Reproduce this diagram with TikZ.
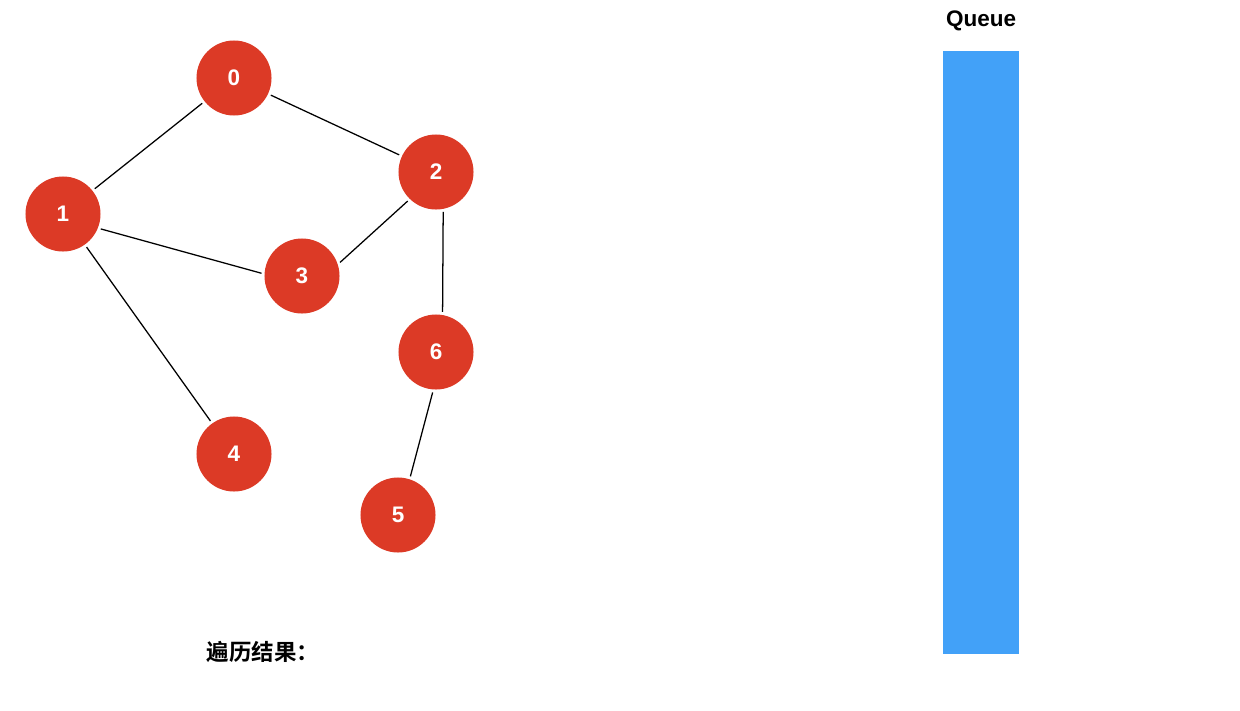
\documentclass[tikz,border=0pt]{standalone}
\usepackage{fontspec}
\setmainfont{Liberation Sans}
\newfontfamily\cjk{Noto Sans CJK SC}[BoldFont={Noto Sans CJK SC Bold}]
\usepackage{tikz}
\usetikzlibrary{positioning}
\definecolor{vred}{HTML}{DC3A26}
\definecolor{qblue}{HTML}{42A1F8}

\begin{document}
\begin{tikzpicture}[x=0.025cm, y=-0.025cm,
    vertex/.style={circle, fill=vred, text=white, inner sep=0pt,
        minimum size=1.875cm, font=\fontsize{16}{19}\selectfont\bfseries},
    edge/.style={draw, line width=0.9pt, shorten <=2pt, shorten >=2pt}]
    \useasboundingbox (0,0) rectangle (1240,710);

    \node[vertex] (v0) at (234,78) {0};
    \node[vertex] (v1) at (63,214) {1};
    \node[vertex] (v2) at (436,172) {2};
    \node[vertex] (v3) at (302,276) {3};
    \node[vertex] (v4) at (234,454) {4};
    \node[vertex] (v5) at (398,515) {5};
    \node[vertex] (v6) at (436,352) {6};

    \draw[edge] (v0) -- (v1);
    \draw[edge] (v0) -- (v2);
    \draw[edge] (v1.-22) -- (v3.177);
    \draw[edge] (v1) -- (v4);
    \draw[edge] (v2.-134) -- (v3.18);
    \draw[edge] (v2.-79) -- (v6.80);
    \draw[edge] (v6.-94) -- (v5.72);

    % queue
    \node[fill=qblue, minimum width=1.9cm, minimum height=15.075cm,
        inner sep=0pt, anchor=north west] (queue) at (943,51) {};
    \node[font=\fontsize{16}{19}\selectfont\bfseries] (qlabel) at (981,21) {Queue};

    \node[font=\cjk\fontsize{16}{19}\selectfont\bfseries] (result) at (263,652) {遍历结果：};
\end{tikzpicture}
\end{document}
